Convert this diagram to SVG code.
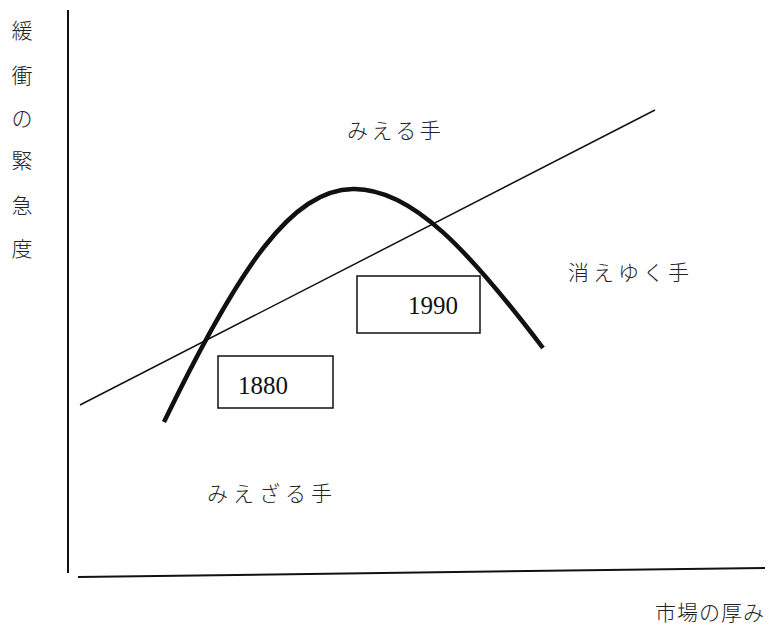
<svg xmlns="http://www.w3.org/2000/svg" width="775" height="627" viewBox="0 0 775 627">
<style>
.jp{font-family:"Noto Sans CJK JP","Noto Sans",sans-serif;font-size:21px;fill:#222;font-weight:300}
.num{font-family:"Liberation Serif",serif;font-size:25px;fill:#111}
.box{fill:#fff;stroke:#111;stroke-width:1.5}
.ax{stroke:#111;stroke-width:2;fill:none}
</style>
<rect width="775" height="627" fill="#fff"/>
<g id="connectors">
<line class="ax" x1="68" y1="10" x2="68" y2="573"/>
<line class="ax" x1="78" y1="577" x2="765" y2="568"/>
<line x1="80" y1="405" x2="655" y2="110" stroke="#111" stroke-width="1.5"/>
<path d="M164,422 C240,265 292,190 353,189 C412,188 470,252 543,348" fill="none" stroke="#111" stroke-width="4.5"/>
</g>
<g id="box1880"><rect class="box" x="218" y="356" width="115" height="52"/><text class="num" x="238" y="394">1880</text></g>
<g id="box1990"><rect class="box" x="357" y="276" width="123" height="57"/><text class="num" x="408" y="314">1990</text></g>
<g id="ylabel">
<text class="jp" x="22" y="38" text-anchor="middle">緩</text>
<text class="jp" x="22" y="83" text-anchor="middle">衝</text>
<text class="jp" x="22" y="126" text-anchor="middle">の</text>
<text class="jp" x="22" y="168" text-anchor="middle">緊</text>
<text class="jp" x="22" y="213" text-anchor="middle">急</text>
<text class="jp" x="22" y="256" text-anchor="middle">度</text>
</g>
<g id="xlabel"><text class="jp" x="655" y="620" letter-spacing="1">市場の厚み</text></g>
<g id="visible"><text class="jp" x="347" y="138" letter-spacing="3.5">みえる手</text></g>
<g id="vanishing"><text class="jp" x="568" y="280" letter-spacing="4">消えゆく手</text></g>
<g id="invisible"><text class="jp" x="207" y="501" letter-spacing="5">みえざる手</text></g>
</svg>
